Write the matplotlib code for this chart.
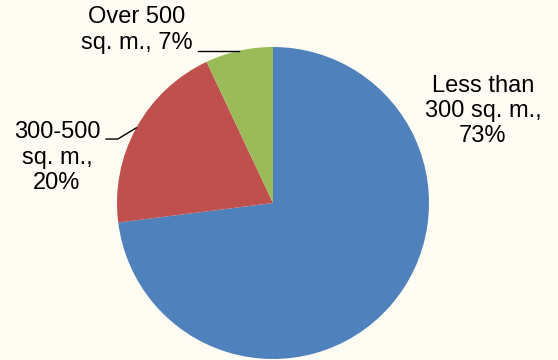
import numpy as np
import matplotlib
matplotlib.use('Agg')
import matplotlib.pyplot as plt

labels = ['Less than\n300 sq. m.,\n73%', '300-500\nsq. m.,\n20%', 'Over 500\nsq. m., 7%']
shares = [73, 20, 7]
colors = ['#4F81BD', '#C0504D', '#9BBB59']
bg = '#FEFCF3'

plt.rcParams['font.family'] = ['Liberation Sans', 'DejaVu Sans']

fig = plt.figure(figsize=(5.58, 3.6), dpi=100, facecolor=bg)
ax = fig.add_axes([117 / 558, 1 / 360, 312 / 558, 312 / 360])
ax.set_facecolor(bg)

wedges, _ = ax.pie(shares, colors=colors, startangle=90, counterclock=False,
                   radius=1.0, wedgeprops=dict(linewidth=0))
ax.set_xlim(-1, 1)
ax.set_ylim(-1, 1)
ax.set_aspect('equal')
ax.axis('off')


def edge_point(w):
    mid = np.deg2rad((w.theta1 + w.theta2) / 2)
    return np.cos(mid), np.sin(mid)


# label positions (data units, radius = 1)
text_pos = [(1.346, 0.59), (-1.385, 0.29), (-0.872, 1.11)]
for lab, (tx, ty) in zip(labels, text_pos):
    ax.text(tx, ty, lab, ha='center', va='center', fontsize=17,
            linespacing=1.2, clip_on=False)

# leader lines
ex, ey = edge_point(wedges[2])
ax.plot([-0.48, ex], [ey, ey], color='black', lw=1, clip_on=False)
ex, ey = edge_point(wedges[1])
ax.plot([-1.07, -0.995, ex], [0.41, 0.41, ey], color='black', lw=1, clip_on=False)

fig.savefig('out.png', dpi=100, facecolor=bg)
